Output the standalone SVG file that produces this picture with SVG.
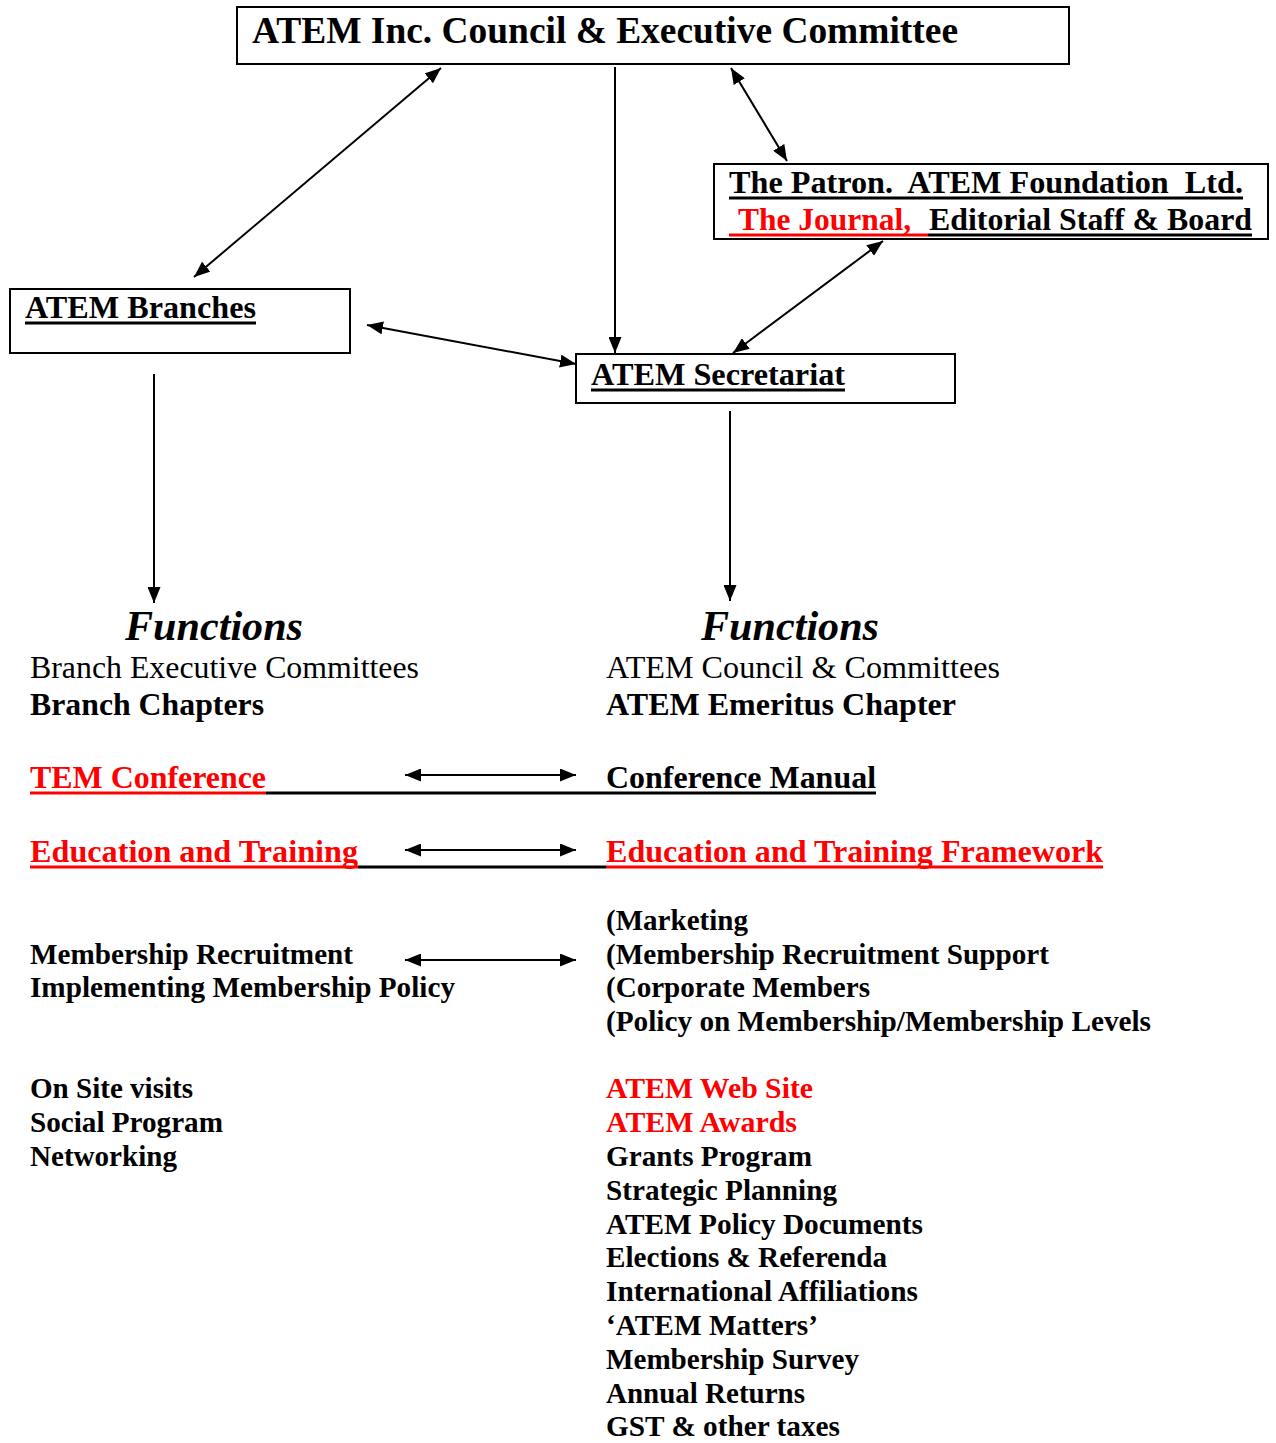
<svg xmlns="http://www.w3.org/2000/svg" width="1276" height="1443" viewBox="0 0 1276 1443">
<style>
.box{fill:#fff;stroke:#000;stroke-width:2}
.t{font-family:'Times New Roman','Liberation Serif',Tinos,Times,serif;font-weight:bold;fill:#000}
.r{fill:#ff0000}
.n{font-weight:normal}
.f{font-style:italic;font-size:42px}
.conn{stroke:#000;stroke-width:2;fill:none}
.ul{stroke:#000;stroke-width:3}
.ulr{stroke:#ff0000;stroke-width:3}
</style>
<defs>
<marker id="ah" markerUnits="userSpaceOnUse" markerWidth="16" markerHeight="13" refX="16" refY="6.5" orient="auto-start-reverse">
<path d="M0,0 L16,6.5 L0,13 Z" fill="#000"/>
</marker>
</defs>
<rect width="1276" height="1443" fill="#fff"/>

<g id="connectors">
<line class="conn" x1="441" y1="68" x2="194" y2="277" marker-start="url(#ah)" marker-end="url(#ah)"/>
<line class="conn" x1="615" y1="67" x2="615" y2="353" marker-end="url(#ah)"/>
<line class="conn" x1="731" y1="68" x2="787" y2="161" marker-start="url(#ah)" marker-end="url(#ah)"/>
<line class="conn" x1="883" y1="241" x2="733" y2="353" marker-start="url(#ah)" marker-end="url(#ah)"/>
<line class="conn" x1="367" y1="325" x2="576" y2="364" marker-start="url(#ah)" marker-end="url(#ah)"/>
<line class="conn" x1="154" y1="374" x2="154" y2="603" marker-end="url(#ah)"/>
<line class="conn" x1="730" y1="411" x2="730" y2="601" marker-end="url(#ah)"/>
<line class="conn" x1="405" y1="775" x2="576" y2="775" marker-start="url(#ah)" marker-end="url(#ah)"/>
<line class="conn" x1="405" y1="850" x2="576" y2="850" marker-start="url(#ah)" marker-end="url(#ah)"/>
<line class="conn" x1="405" y1="960" x2="576" y2="960" marker-start="url(#ah)" marker-end="url(#ah)"/>
</g>

<g id="council">
<rect class="box" x="237" y="7" width="832" height="57"/>
<text class="t" x="252" y="43" font-size="37" textLength="706" lengthAdjust="spacingAndGlyphs">ATEM Inc. Council &amp; Executive Committee</text>
</g>

<g id="branches">
<rect class="box" x="10" y="289" width="340" height="64"/>
<text class="t" x="25" y="318" font-size="32" textLength="231" lengthAdjust="spacingAndGlyphs">ATEM Branches</text>
<line class="ul" x1="25" y1="323" x2="256" y2="323"/>
</g>

<g id="patron">
<rect class="box" x="714" y="164" width="554" height="75"/>
<text class="t" x="729" y="193" font-size="32" textLength="514" lengthAdjust="spacingAndGlyphs" xml:space="preserve">The Patron.  ATEM Foundation  Ltd.</text>
<line class="ul" x1="729" y1="198" x2="1243" y2="198"/>
<text class="t r" x="738" y="230" font-size="32" textLength="173" lengthAdjust="spacingAndGlyphs">The Journal,</text>
<text class="t" x="929" y="230" font-size="32" textLength="323" lengthAdjust="spacingAndGlyphs">Editorial Staff &amp; Board</text>
<line class="ulr" x1="729" y1="235" x2="928" y2="235"/>
<line class="ul" x1="928" y1="235" x2="1252" y2="235"/>
</g>

<g id="secretariat">
<rect class="box" x="576" y="354" width="379" height="49"/>
<text class="t" x="591" y="385" font-size="32" textLength="254" lengthAdjust="spacingAndGlyphs">ATEM Secretariat</text>
<line class="ul" x1="591" y1="390" x2="845" y2="390"/>
</g>

<g id="branch-functions">
<text class="t f" x="125" y="640" textLength="178" lengthAdjust="spacingAndGlyphs">Functions</text>
<text class="t n" x="30" y="678" font-size="31" textLength="389" lengthAdjust="spacingAndGlyphs">Branch Executive Committees</text>
<text class="t" x="30" y="715" font-size="31" textLength="234" lengthAdjust="spacingAndGlyphs">Branch Chapters</text>
<text class="t r" x="30" y="788" font-size="32" textLength="236" lengthAdjust="spacingAndGlyphs">TEM Conference</text>
<text class="t r" x="30" y="862" font-size="32" textLength="328" lengthAdjust="spacingAndGlyphs">Education and Training</text>
<text class="t" x="30" y="964" font-size="29" textLength="323" lengthAdjust="spacingAndGlyphs">Membership Recruitment</text>
<text class="t" x="30" y="997" font-size="29" textLength="425" lengthAdjust="spacingAndGlyphs">Implementing Membership Policy</text>
<text class="t" x="30" y="1098" font-size="29" textLength="163" lengthAdjust="spacingAndGlyphs">On Site visits</text>
<text class="t" x="30" y="1132" font-size="29" textLength="193" lengthAdjust="spacingAndGlyphs">Social Program</text>
<text class="t" x="30" y="1166" font-size="29" textLength="147" lengthAdjust="spacingAndGlyphs">Networking</text>
</g>

<g id="secretariat-functions">
<text class="t f" x="701" y="640" textLength="178" lengthAdjust="spacingAndGlyphs">Functions</text>
<text class="t n" x="606" y="678" font-size="31" textLength="394" lengthAdjust="spacingAndGlyphs">ATEM Council &amp; Committees</text>
<text class="t" x="606" y="715" font-size="31" textLength="350" lengthAdjust="spacingAndGlyphs">ATEM Emeritus Chapter</text>
<text class="t" x="606" y="788" font-size="32" textLength="270" lengthAdjust="spacingAndGlyphs">Conference Manual</text>
<text class="t r" x="606" y="862" font-size="32" textLength="497" lengthAdjust="spacingAndGlyphs">Education and Training Framework</text>
<text class="t" x="606" y="930" font-size="29" textLength="142" lengthAdjust="spacingAndGlyphs">(Marketing</text>
<text class="t" x="606" y="964" font-size="29" textLength="443" lengthAdjust="spacingAndGlyphs">(Membership Recruitment Support</text>
<text class="t" x="606" y="997" font-size="29" textLength="264" lengthAdjust="spacingAndGlyphs">(Corporate Members</text>
<text class="t" x="606" y="1031" font-size="29" textLength="545" lengthAdjust="spacingAndGlyphs">(Policy on Membership/Membership Levels</text>
<text class="t r" x="606" y="1098" font-size="29" textLength="207" lengthAdjust="spacingAndGlyphs">ATEM Web Site</text>
<text class="t r" x="606" y="1132" font-size="29" textLength="191" lengthAdjust="spacingAndGlyphs">ATEM Awards</text>
<text class="t" x="606" y="1166" font-size="29" textLength="206" lengthAdjust="spacingAndGlyphs">Grants Program</text>
<text class="t" x="606" y="1200" font-size="29" textLength="231" lengthAdjust="spacingAndGlyphs">Strategic Planning</text>
<text class="t" x="606" y="1234" font-size="29" textLength="317" lengthAdjust="spacingAndGlyphs">ATEM Policy Documents</text>
<text class="t" x="606" y="1267" font-size="29" textLength="281" lengthAdjust="spacingAndGlyphs">Elections &amp; Referenda</text>
<text class="t" x="606" y="1301" font-size="29" textLength="312" lengthAdjust="spacingAndGlyphs">International Affiliations</text>
<text class="t" x="606" y="1335" font-size="29" textLength="212" lengthAdjust="spacingAndGlyphs">‘ATEM Matters’</text>
<text class="t" x="606" y="1369" font-size="29" textLength="253" lengthAdjust="spacingAndGlyphs">Membership Survey</text>
<text class="t" x="606" y="1403" font-size="29" textLength="199" lengthAdjust="spacingAndGlyphs">Annual Returns</text>
<text class="t" x="606" y="1436" font-size="29" textLength="234" lengthAdjust="spacingAndGlyphs">GST &amp; other taxes</text>
</g>

<g id="underlines">
<line class="ulr" x1="30" y1="793" x2="266" y2="793"/>
<line class="ul" x1="266" y1="793" x2="876" y2="793"/>
<line class="ulr" x1="30" y1="867" x2="358" y2="867"/>
<line class="ul" x1="358" y1="867" x2="606" y2="867"/>
<line class="ulr" x1="606" y1="867" x2="1103" y2="867"/>
</g>
</svg>
